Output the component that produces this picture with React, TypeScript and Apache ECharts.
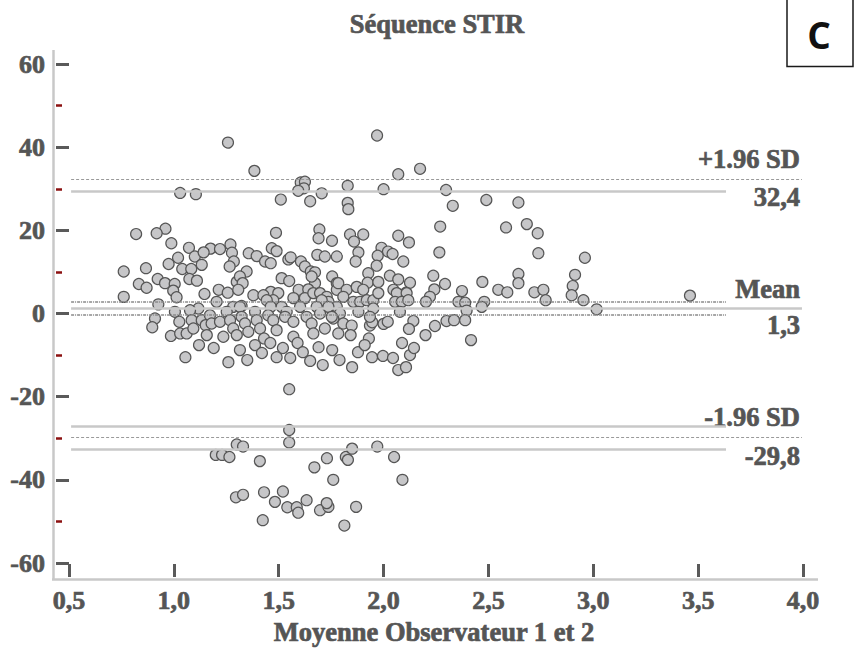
import React, { useEffect, useRef } from "react";
import * as echarts from "echarts";

// Mean of observers 1 and 2 (x) and difference (y)
const meanObs: number[] = [
  // > 20
  1.258, 1.384, 1.03, 1.105, 1.51, 1.605, 1.625, 1.62, 1.593, 1.65, 1.705, 1.694, 0.96, 1.969, 2.07, 2.174, 1.829, 2.0, 2.298, 1.829, 1.832, 2.33, 2.49, 2.643, 2.584, 2.683, 2.27,
  // 15..20
  1.69, 1.754, 0.82, 0.918, 0.988, 1.072, 1.175, 1.22, 1.27, 1.467, 1.487, 1.49, 2.735, 2.07, 2.121, 1.84, 1.859, 1.903, 1.99, 2.021,
  // 10..15
  1.02, 0.975, 0.761, 0.867, 1.04, 1.083, 1.10, 1.133, 1.142, 1.277, 1.286, 1.266, 1.347, 1.357, 1.395, 1.435, 1.462, 1.546, 1.557, 1.606, 1.625, 1.653, 1.673, 1.684, 1.72, 1.777, 2.738, 2.96, 2.266, 2.094, 1.88, 1.867, 1.972, 2.043, 1.967,
  // 5..10
  0.833, 0.87, 0.923, 0.958, 1.004, 0.997, 1.074, 1.11, 1.214, 1.257, 1.30, 1.315, 1.328, 1.307, 1.514, 1.55, 1.595, 1.462, 1.673, 1.755, 1.777, 1.777, 1.657, 1.641, 1.927, 1.924, 1.975, 2.03, 2.07, 2.126, 2.107, 2.237, 2.293, 2.242, 2.374, 2.471, 2.547, 2.59, 2.643, 2.643, 2.719, 2.762, 2.913, 2.902, 1.784, 1.824, 1.872, 1.903, 2.047,
  // 0..5
  0.761, 1.013, 0.926, 1.146, 1.379, 1.427, 1.498, 1.474, 1.443, 1.57, 1.625, 1.665, 1.697, 1.729, 1.737, 1.705, 1.777, 1.323, 1.283, 1.204, 1.117, 1.005, 1.077, 1.252, 1.315, 1.387, 1.462, 1.514, 1.538, 1.602, 1.681, 1.697, 1.737, 1.808, 1.856, 1.888, 1.92, 1.951, 1.975, 2.063, 2.11, 2.055, 2.087, 2.118, 1.951, 2.078, 1.792, 1.88, 2.221, 2.202, 2.357, 2.389, 2.396, 2.48, 2.468, 2.773, 2.897, 2.953, 3.016, 3.461,
  // 0..-6.5
  0.91, 0.897, 1.026, 0.986, 1.03, 1.061, 1.085, 1.093, 1.133, 1.152, 1.157, 1.172, 1.18, 1.22, 1.236, 1.268, 1.283, 1.30, 1.323, 1.339, 1.355, 1.395, 1.411, 1.43, 1.45, 1.474, 1.49, 1.53, 1.57, 1.57, 1.633, 1.657, 1.665, 1.72, 1.76, 1.784, 1.753, 1.808, 1.848, 1.843, 1.93, 1.935, 1.946, 2.0, 2.02, 1.935, 2.142, 2.121, 2.30, 2.336, 2.389, 2.245, 2.2, 2.417,
  // -6.5..-20
  1.055, 1.12, 1.19, 1.26, 1.315, 1.35, 1.387, 1.42, 1.46, 1.49, 1.52, 1.55, 1.555, 1.59, 1.615, 1.65, 1.69, 1.71, 1.755, 1.79, 1.85, 1.878, 1.91, 1.945, 1.997, 2.045, 2.07, 2.107, 2.126, 2.145, 2.088,
  // lower cluster
  1.55, 1.55, 1.30, 1.33, 1.20, 1.23, 1.265, 1.41, 1.296, 1.33, 1.43, 1.424, 1.482, 1.52, 1.541, 1.586, 1.593, 1.633, 1.67, 1.73, 1.697, 1.737, 1.729, 1.76, 1.82, 1.83, 1.85, 1.813, 1.869, 1.97, 2.05, 2.09,
];

const diffObs: number[] = [
  // > 20
  41.1, 34.3, 29.0, 28.7, 27.4, 31.5, 31.7, 30.1, 29.5, 27.0, 28.9, 20.2, 20.4, 42.8, 33.5, 34.8, 30.7, 29.9, 29.7, 26.6, 25.1, 25.9, 27.3, 26.7, 20.7, 21.5, 20.9,
  // 15..20
  18.1, 17.5, 19.1, 19.3, 16.9, 15.8, 15.6, 15.5, 16.6, 15.7, 19.4, 15.0, 19.3, 18.7, 17.1, 19.0, 17.3, 19.0, 15.8, 14.9,
  // 10..15
  13.4, 11.9, 10.1, 10.9, 10.7, 10.7, 13.7, 11.7, 14.7, 14.6, 12.5, 11.3, 10.1, 14.5, 13.8, 12.5, 12.1, 13.0, 13.5, 12.5, 11.3, 10.1, 9.9, 14.1, 13.7, 13.7, 14.5, 13.4, 14.7, 12.5, 14.7, 12.5, 13.9, 14.3, 11.5,
  // 5..10
  7.1, 6.2, 8.3, 7.3, 7.1, 5.5, 8.3, 7.9, 5.7, 5.0, 7.6, 8.9, 7.3, 5.7, 8.5, 7.8, 5.7, 5.2, 7.3, 8.9, 7.3, 5.7, 8.9, 5.8, 9.7, 7.4, 7.6, 9.1, 8.2, 7.4, 5.0, 9.1, 7.1, 5.8, 5.4, 7.6, 5.7, 5.1, 9.5, 7.3, 5.1, 5.7, 9.3, 6.6, 7.3, 5.7, 6.4, 5.7, 5.7,
  // 0..5
  4.0, 3.9, 2.2, 4.7, 4.4, 4.4, 4.9, 3.2, 3.2, 3.7, 3.7, 4.9, 4.9, 4.0, 2.8, 3.2, 1.6, 1.8, 1.6, 2.8, 1.2, 0.4, 0.8, 0.4, 1.6, 0.4, 1.6, 1.6, 0.4, 1.6, 1.6, 0.0, 1.6, 4.0, 2.8, 2.8, 3.2, 3.2, 4.9, 4.9, 4.9, 2.8, 2.8, 3.2, 1.2, 0.4, 0.0, 0.4, 4.0, 2.8, 2.8, 2.6, 0.7, 2.8, 1.6, 3.2, 4.4, 3.2, 1.0, 4.3,
  // 0..-6.5
  -1.2, -3.3, -2.0, -5.4, -4.8, -4.8, -1.6, -3.6, -1.6, -2.8, -5.2, -0.4, -2.4, -2.0, -5.6, -1.6, -3.6, -5.2, -0.8, -2.4, -4.4, -1.6, -3.6, -6.0, -0.4, -1.6, -4.0, -0.8, -2.0, -5.6, -0.8, -2.4, -4.8, -3.6, -1.2, -4.8, -0.8, -2.4, -2.9, -5.2, -6.0, -2.9, -2.1, -2.5, -2.0, -0.8, -1.8, -3.7, -1.8, -1.6, -1.6, -3.0, -5.2, -6.4,
  // -6.5..-20
  -10.5, -7.6, -8.3, -11.7, -8.8, -11.2, -7.6, -9.5, -7.1, -10.5, -8.3, -18.2, -10.7, -7.1, -9.3, -11.4, -8.1, -12.4, -8.8, -11.2, -12.9, -9.3, -7.6, -10.5, -10.2, -10.7, -13.6, -12.9, -10.0, -8.3, -7.1,
  // lower cluster
  -28.0, -31.0, -31.5, -32.0, -34.0, -34.0, -34.5, -35.5, -44.2, -43.6, -43.0, -49.7, -45.3, -42.8, -46.6, -46.6, -47.9, -44.9, -37.0, -34.8, -47.3, -46.5, -45.6, -40.0, -34.5, -35.2, -32.5, -51.0, -46.5, -32.0, -34.5, -40.0,
];

// Axis ticks
const xTicks = { min: 0.5, max: 4.0, step: 0.5 };
const yTicks = { min: -60, max: 60, step: 20 };

// Reference levels (differences)
const meanValue = 1.3;
const sdLimits = [32.4, -29.8];
const ciSolidLevels = [29.5, -27.1, -32.7];
const meanCiLevels = [2.77, -0.36];
const lineStart = 0.51;
const fullEnd = 3.995;
const shortEnd = 3.633;

// Texts
const titleText = "Séquence STIR";
const xAxisTitle = "Moyenne Observateur 1 et 2";
const lineLabels = ["+1.96 SD", "32,4", "Mean", "1,3", "-1.96 SD", "-29,8"];
const panelLetter = "C";

const FONT = "'Liberation Serif', 'Times New Roman', serif";
const TEXT_COLOR = "#555555";
const TEXT_BORDER = 0.7;

export default function App() {
  const ref = useRef<HTMLDivElement>(null);

  useEffect(() => {
    if (!ref.current) return;
    const chart = echarts.init(ref.current, undefined, { renderer: "svg" });

    const points = meanObs.map((x, i) => [x, diffObs[i]]);

    const dashed = { color: "#9a9a9a", width: 1, type: [3, 2] as number[] };
    const solid = { color: "#c8c8c8", width: 2.5, type: "solid" as const };
    const dashDot = { color: "#8a8a8a", width: 1.5, type: [3, 1, 1, 1] as number[] };

    const seg = (y: number, end: number, style: any) => [
      { coord: [lineStart, y], lineStyle: style },
      { coord: [end, y] },
    ];

    const markData: any[] = [
      seg(sdLimits[0], fullEnd, dashed),
      seg(sdLimits[1], fullEnd, dashed),
      seg(meanValue, fullEnd, solid),
      ...ciSolidLevels.map((v) => seg(v, shortEnd, solid)),
      ...meanCiLevels.map((v) => seg(v, shortEnd, dashDot)),
    ];

    const labelY = [159, 197, 289, 325, 417, 456];

    const labelStyle = {
      color: TEXT_COLOR,
      fontFamily: FONT,
      fontWeight: "bold",
      fontSize: 26,
      textBorderColor: TEXT_COLOR,
      textBorderWidth: TEXT_BORDER,
    };

    const textStyle = (t: string, align: string) => ({
      text: t,
      fill: TEXT_COLOR,
      stroke: TEXT_COLOR,
      lineWidth: TEXT_BORDER,
      fontFamily: FONT,
      fontWeight: "bold",
      fontSize: 26.5,
      textAlign: align,
      textVerticalAlign: "middle",
    });

    chart.setOption({
      animation: false,
      grid: { left: 69, right: 52, top: 64, bottom: 90 },
      xAxis: {
        type: "value",
        min: xTicks.min,
        max: xTicks.max,
        interval: xTicks.step,
        offset: 14,
        axisLine: { show: false, onZero: false },
        axisTick: { show: true, inside: true, length: 13, lineStyle: { color: "#5a5a5a", width: 3 } },
        splitLine: { show: false },
        axisLabel: {
          margin: 10,
          ...labelStyle,
          formatter: (v: number) => v.toFixed(1).replace(".", ","),
        },
      },
      yAxis: {
        type: "value",
        min: yTicks.min,
        max: yTicks.max,
        interval: yTicks.step,
        offset: 13,
        axisLine: { show: false, onZero: false },
        axisTick: { show: true, inside: true, length: 13, lineStyle: { color: "#5a5a5a", width: 3 } },
        minorTick: { show: true, splitNumber: 2, length: 6, lineStyle: { color: "#8b1010", width: 2.5 } },
        splitLine: { show: false },
        minorSplitLine: { show: false },
        axisLabel: {
          margin: 11,
          ...labelStyle,
        },
      },
      series: [
        {
          type: "scatter",
          data: [],
          z: 1,
          silent: true,
          markLine: {
            silent: true,
            symbol: ["none", "none"],
            label: { show: false },
            animation: false,
            data: markData,
          },
        },
        {
          type: "scatter",
          z: 3,
          data: points,
          symbol: "circle",
          symbolSize: 11,
          itemStyle: { color: "#c6c6c8", borderColor: "#555555", borderWidth: 1.2, opacity: 1 },
        },
      ],
      graphic: [
        {
          type: "line",
          silent: true,
          shape: { x1: 53.5, y1: 50, x2: 53.5, y2: 580 },
          style: { stroke: "#c8c8c8", lineWidth: 2.5 },
        },
        {
          type: "line",
          silent: true,
          shape: { x1: 52, y1: 579.5, x2: 818, y2: 579.5 },
          style: { stroke: "#c8c8c8", lineWidth: 2.5 },
        },
        { type: "text", x: 437, y: 24, style: textStyle(titleText, "center") },
        { type: "text", x: 434, y: 632, style: textStyle(xAxisTitle, "center") },
        ...lineLabels.map((t, i) => ({
          type: "text",
          x: 800,
          y: labelY[i],
          style: textStyle(t, "right"),
        })),
        {
          type: "rect",
          shape: { x: 787, y: -1, width: 66, height: 67.5 },
          style: { fill: "#ffffff", stroke: "#1a1a1a", lineWidth: 1.5 },
        },
        {
          type: "text",
          x: 819,
          y: 34,
          style: {
            text: panelLetter,
            fill: "#111111",
            fontFamily: "'Open Sans', 'Liberation Sans', sans-serif",
            fontWeight: "bold",
            fontSize: 37,
            textAlign: "center",
            textVerticalAlign: "middle",
          },
        },
      ],
    });

    return () => chart.dispose();
  }, []);

  return <div ref={ref} style={{ width: 855, height: 653, position: "absolute", left: 0, top: 0 }} />;
}
